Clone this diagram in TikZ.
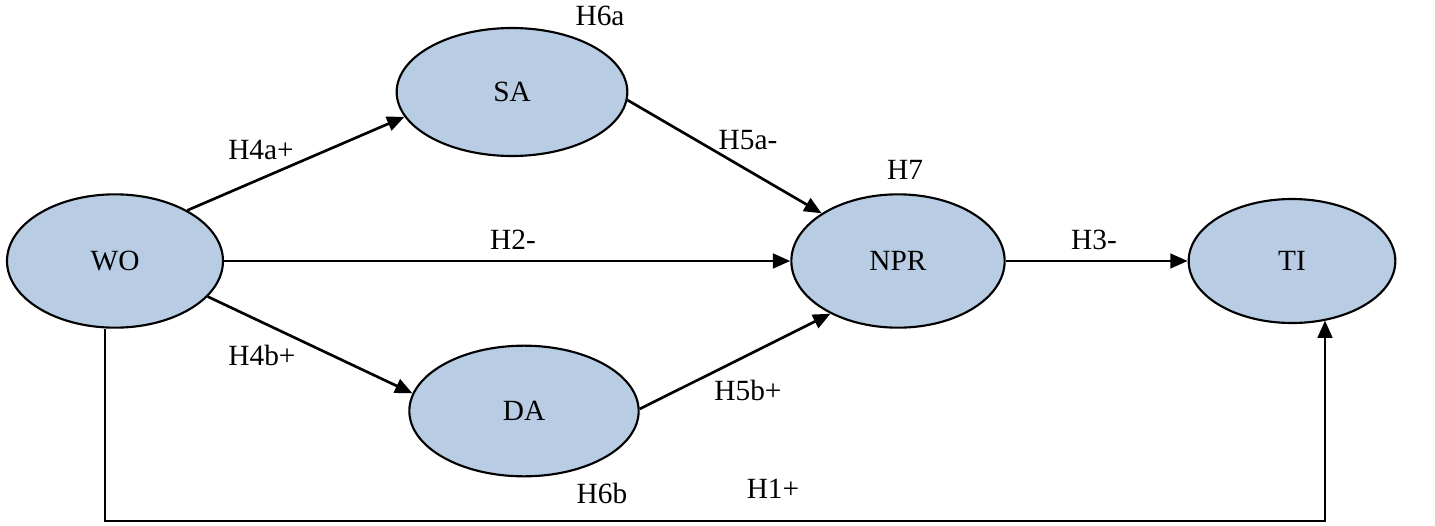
\documentclass[tikz,border=0pt]{standalone}
\usepackage{fontspec}
\setmainfont{Liberation Serif}
\usetikzlibrary{arrows.meta,shapes.geometric}
\definecolor{ellfill}{RGB}{184,204,228}
\begin{document}
\begin{tikzpicture}[x=0.75pt,y=-0.75pt,
  construct/.style={ellipse,draw=black,line width=1.6pt,fill=ellfill,inner sep=0pt},
  conn/.style={line width=2pt,-{Triangle[length=13pt,width=11pt]}},
  lbl/.style={inner sep=0pt},
  font=\fontsize{22}{26}\selectfont]
\useasboundingbox (0,0) rectangle (1435,525);
\node[construct,minimum width=162pt,minimum height=100pt] (WO) at (115,261) {WO};
\node[construct,minimum width=173pt,minimum height=96pt] (SA) at (512,92) {SA};
\node[construct,minimum width=160pt,minimum height=100pt] (NPR) at (898,261) {NPR};
\node[construct,minimum width=155pt,minimum height=93pt] (TI) at (1292,261) {TI};
\node[construct,minimum width=172pt,minimum height=98pt] (DA) at (524,411) {DA};

\coordinate (c1) at (105,521);
\coordinate (c2) at (1325,521);

\draw[conn] (WO.35) -- (SA.193);
\draw[conn] (WO.east) -- (NPR.west);
\draw[conn] (WO.339) -- (DA.171);
\draw[conn] (SA.356) -- (NPR.148);
\draw[conn] (DA.1) -- (NPR.218);
\draw[conn] (NPR.east) -- (TI.west);
\draw[conn] (c1 |- WO.south) -- (c1) -- (c2) -- (c2 |- TI.-60.6);

\node[lbl] (l6a) at (600,16) {H6a};
\node[lbl] (l4a) at (261,150) {H4a+};
\node[lbl] (l5a) at (748,140) {H5a-};
\node[lbl] (l7) at (905,170) {H7};
\node[lbl] (l2) at (513,240) {H2-};
\node[lbl] (l3) at (1094,240) {H3-};
\node[lbl] (l4b) at (262,355) {H4b+};
\node[lbl] (l5b) at (748,390) {H5b+};
\node[lbl] (l6b) at (602,493) {H6b};
\node[lbl] (l1) at (773,489) {H1+};
\end{tikzpicture}
\end{document}
